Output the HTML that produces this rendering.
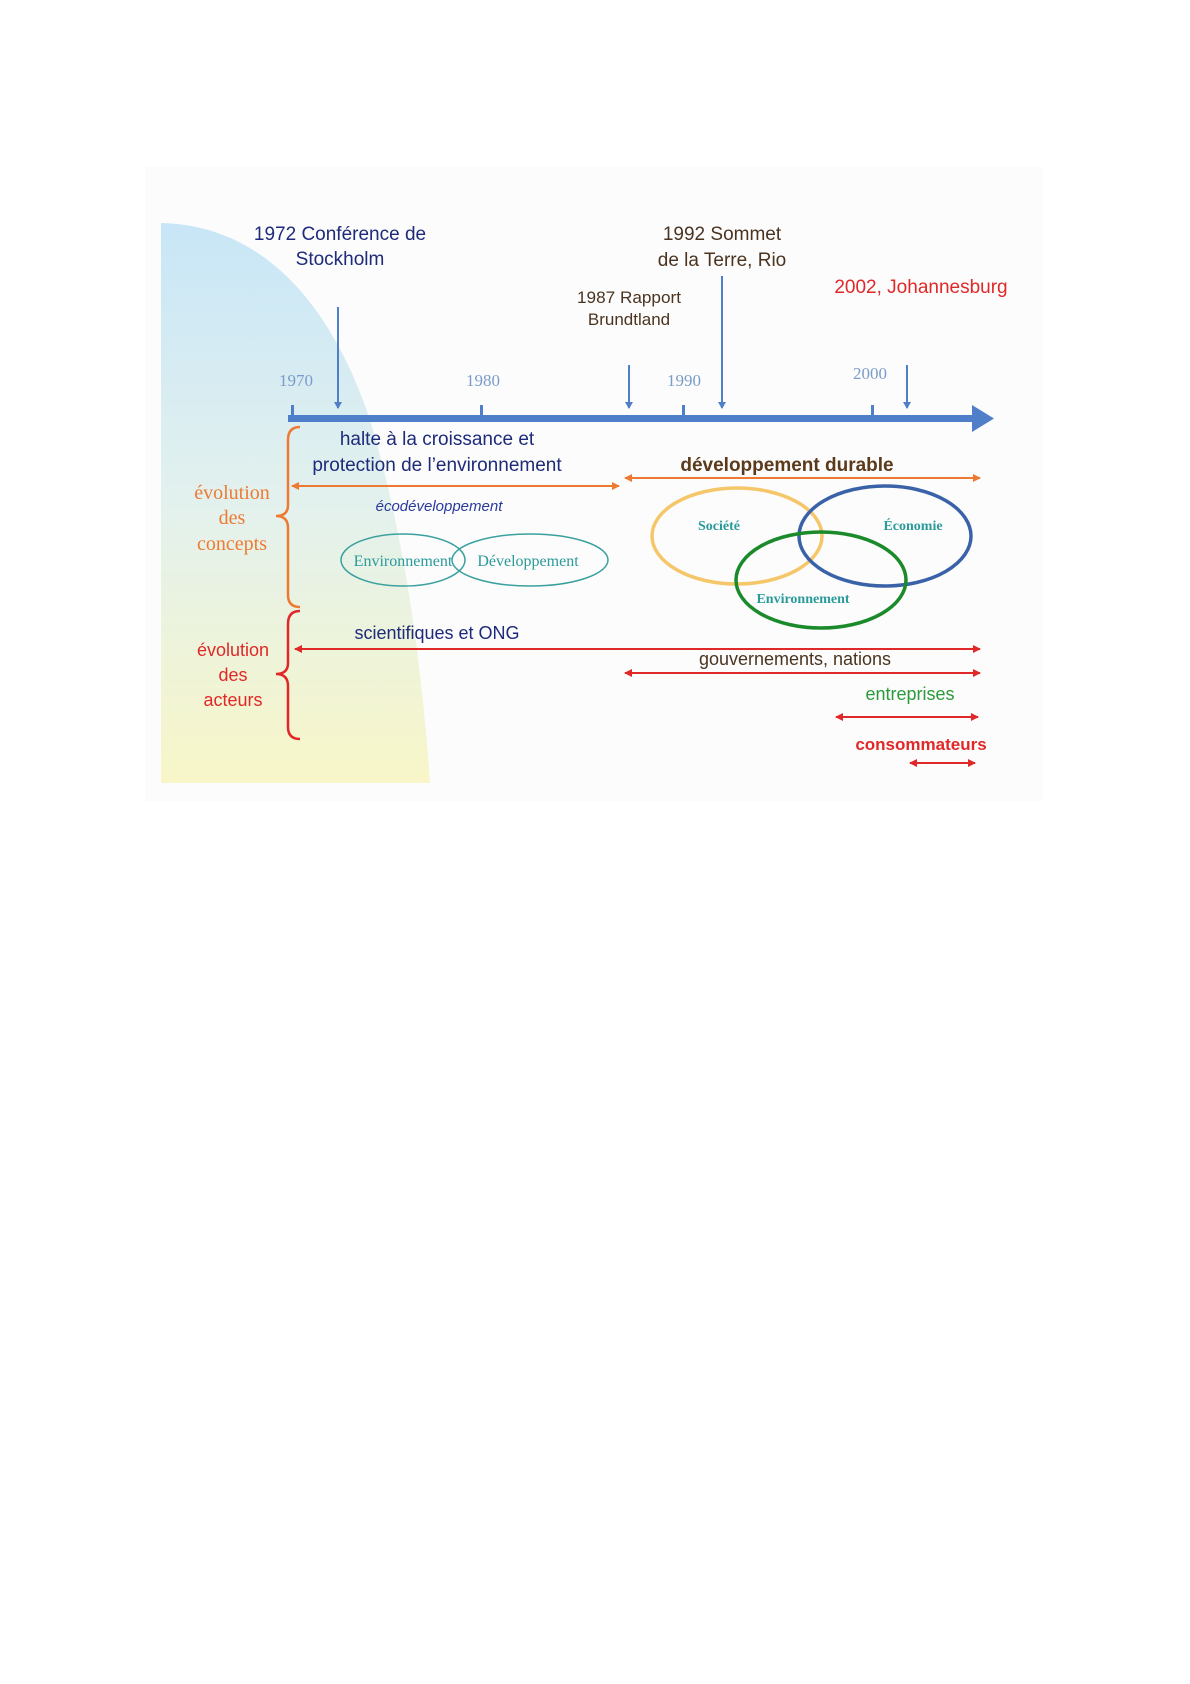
<!DOCTYPE html>
<html><head><meta charset="utf-8"><style>
html,body{margin:0;padding:0;background:#fff;}
svg{display:block;}
text{font-family:"Liberation Sans","DejaVu Sans",sans-serif;}
.serif{font-family:"Liberation Serif",serif;}
</style></head><body>
<svg width="1190" height="1684" viewBox="0 0 1190 1684" xmlns="http://www.w3.org/2000/svg">
<defs>
<linearGradient id="g" x1="0" y1="0" x2="0" y2="1">
<stop offset="0" stop-color="#c8e6f7"/>
<stop offset="0.5" stop-color="#e3f1ee"/>
<stop offset="1" stop-color="#f8f6c8"/>
</linearGradient>
<marker id="ab" markerWidth="8" markerHeight="8" refX="6" refY="4" orient="auto" markerUnits="userSpaceOnUse"><path d="M0,0 L7,4 L0,8 z" fill="#4f7fc8"/></marker>
<marker id="ao" markerWidth="8" markerHeight="8" refX="7" refY="4" orient="auto-start-reverse" markerUnits="userSpaceOnUse"><path d="M0,0 L8,4 L0,8 z" fill="#ee7a32"/></marker>
<marker id="ar" markerWidth="8" markerHeight="8" refX="7" refY="4" orient="auto-start-reverse" markerUnits="userSpaceOnUse"><path d="M0,0 L8,4 L0,8 z" fill="#e02828"/></marker>
</defs>
<rect x="145" y="167" width="898" height="634" fill="#fcfcfc"/>
<path d="M161,223 C260,225 330,300 370,420 C400,520 420,640 430,783 L161,783 Z" fill="url(#g)"/>
<!-- timeline -->
<rect x="288" y="415" width="690" height="7" fill="#4f7fc8"/>
<path d="M972,405 L994,418.5 L972,432 Z" fill="#4f7fc8"/>
<g fill="#4f7fc8"><rect x="291" y="405" width="3" height="11"/><rect x="480" y="405" width="3" height="11"/><rect x="682" y="405" width="3" height="11"/><rect x="871" y="405" width="3" height="11"/></g>
<g stroke="#4f7fc8" stroke-width="2" marker-end="url(#ab)">
<line x1="338" y1="307" x2="338" y2="408"/>
<line x1="629" y1="365" x2="629" y2="408"/>
<line x1="722" y1="276" x2="722" y2="408"/>
<line x1="907" y1="365" x2="907" y2="408"/>
</g>
<g class="serif" fill="#7a9cc8" font-size="17" text-anchor="middle">
<text x="296" y="386" class="serif">1970</text><text x="483" y="386" class="serif">1980</text><text x="684" y="386" class="serif">1990</text><text x="870" y="379" class="serif">2000</text>
</g>
<g font-size="19" text-anchor="middle">
<text x="340" y="240" fill="#1e2a7a">1972 Conférence de</text>
<text x="340" y="265" fill="#1e2a7a">Stockholm</text>
<text x="722" y="240" fill="#4a3420">1992 Sommet</text>
<text x="722" y="266" fill="#4a3420">de la Terre, Rio</text>
<text x="921" y="293" fill="#e02828">2002, Johannesburg</text>
</g>
<g font-size="17" text-anchor="middle" fill="#4a3420">
<text x="629" y="303" textLength="104" lengthAdjust="spacingAndGlyphs">1987 Rapport</text>
<text x="629" y="325">Brundtland</text>
</g>
<g font-size="19" text-anchor="middle" fill="#1e2a7a">
<text x="437" y="445">halte à la croissance et</text>
<text x="437" y="471">protection de l’environnement</text>
</g>
<text x="787" y="471" font-size="19" font-weight="bold" text-anchor="middle" fill="#5a3a1a">développement durable</text>
<line x1="292" y1="486" x2="619" y2="486" stroke="#ee7a32" stroke-width="2" marker-start="url(#ao)" marker-end="url(#ao)"/>
<line x1="625" y1="478" x2="980" y2="478" stroke="#ee7a32" stroke-width="2" marker-start="url(#ao)" marker-end="url(#ao)"/>
<text x="439" y="511" font-size="15" font-style="italic" text-anchor="middle" fill="#2a3a9a">écodéveloppement</text>
<ellipse cx="403" cy="560" rx="62" ry="26" fill="none" stroke="#3aa0a0" stroke-width="1.5"/>
<ellipse cx="530" cy="560" rx="78" ry="26" fill="none" stroke="#3aa0a0" stroke-width="1.5"/>
<text x="403" y="566" class="serif" font-size="16" text-anchor="middle" fill="#2a9a9a">Environnement</text>
<text x="528" y="566" class="serif" font-size="16" text-anchor="middle" fill="#2a9a9a">Développement</text>
<ellipse cx="737" cy="536" rx="85" ry="48" fill="none" stroke="#f5c76a" stroke-width="3.5"/>
<ellipse cx="885" cy="536" rx="86" ry="50" fill="none" stroke="#3a62a8" stroke-width="3.5"/>
<ellipse cx="821" cy="580" rx="85" ry="48" fill="none" stroke="#1a8a2a" stroke-width="3.5"/>
<g class="serif" font-size="14" font-weight="bold" text-anchor="middle" fill="#2a9a9a">
<text x="719" y="530" class="serif">Société</text>
<text x="913" y="530" class="serif">Économie</text>
<text x="803" y="603" class="serif">Environnement</text>
</g>
<!-- braces -->
<path d="M300,427 Q288,427 288,440 L288,505 Q288,516 276,516 Q288,516 288,528 L288,595 Q288,607 300,607" fill="none" stroke="#ee7a32" stroke-width="2.5"/>
<path d="M300,611 Q288,611 288,624 L288,663 Q288,674 276,674 Q288,674 288,686 L288,727 Q288,739 300,739" fill="none" stroke="#e02828" stroke-width="2.5"/>
<g class="serif" font-size="20" text-anchor="middle" fill="#ee7a32">
<text x="232" y="499" class="serif">évolution</text><text x="232" y="524" class="serif">des</text><text x="232" y="550" class="serif">concepts</text>
</g>
<g font-size="18" text-anchor="middle" fill="#e02828">
<text x="233" y="656">évolution</text><text x="233" y="681">des</text><text x="233" y="706">acteurs</text>
</g>
<text x="437" y="639" font-size="18" text-anchor="middle" fill="#1e2a7a">scientifiques et ONG</text>
<text x="795" y="665" font-size="18" text-anchor="middle" fill="#4a3420">gouvernements, nations</text>
<text x="910" y="700" font-size="18" text-anchor="middle" fill="#2a9a3a">entreprises</text>
<text x="921" y="750" font-size="17" font-weight="bold" text-anchor="middle" fill="#e02828">consommateurs</text>
<g stroke="#e02828" stroke-width="2" marker-start="url(#ar)" marker-end="url(#ar)">
<line x1="295" y1="649" x2="980" y2="649"/>
<line x1="625" y1="673" x2="980" y2="673"/>
<line x1="836" y1="717" x2="978" y2="717"/>
<line x1="910" y1="763" x2="975" y2="763"/>
</g>
</svg>
</body></html>
